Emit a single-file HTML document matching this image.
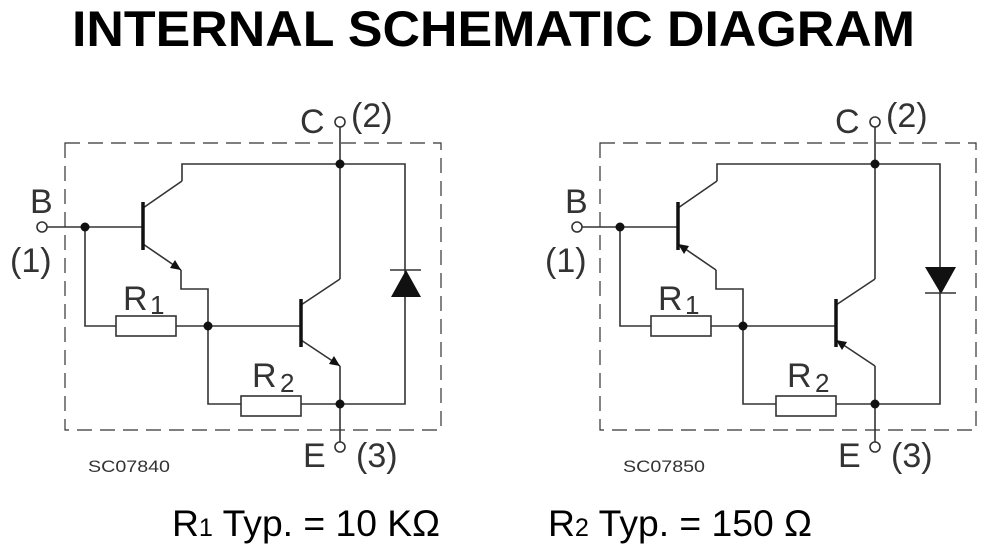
<!DOCTYPE html>
<html><head><meta charset="utf-8"><style>
html,body{margin:0;padding:0;background:#fff;}
svg{display:block;}
text{font-family:"Liberation Sans",sans-serif;}
</style></head><body>
<svg width="1000" height="558" viewBox="0 0 1000 558" xmlns="http://www.w3.org/2000/svg">
<text x="72" y="46" font-size="50" font-weight="bold" textLength="843" lengthAdjust="spacingAndGlyphs" fill="#000">INTERNAL  SCHEMATIC  DIAGRAM</text>

<defs>
<g id="common" stroke="#333" stroke-width="1.6" fill="none">
  <rect x="65" y="143" width="376" height="287" stroke-dasharray="15,8" stroke-width="1.2"/>
  <line x1="340" y1="127" x2="340" y2="279"/>
  <line x1="340" y1="366" x2="340" y2="442"/>
  <polyline points="182,181 182,164 405,164 405,404 340,404"/>
  <line x1="182" y1="181" x2="143" y2="208"/>
  <line x1="47" y1="227" x2="143" y2="227"/>
  <polyline points="85,227 85,326 116,326"/>
  <rect x="116" y="316" width="60" height="20" fill="#fff"/>
  <line x1="176" y1="326" x2="301" y2="326"/>
  <polyline points="181,270 181,289 208,289 208,404 241,404"/>
  <rect x="241" y="396" width="60" height="20" fill="#fff"/>
  <line x1="301" y1="404" x2="340" y2="404"/>
  <line x1="301" y1="305" x2="340" y2="279"/>
  <line x1="143" y1="244" x2="181" y2="270"/>
  <line x1="301" y1="340" x2="340" y2="366"/>
  <circle cx="340" cy="122" r="5" fill="#fff"/>
  <circle cx="340" cy="447" r="5" fill="#fff"/>
  <circle cx="42" cy="227" r="5" fill="#fff"/>
  <line x1="143" y1="202" x2="143" y2="250" stroke-width="3.5" stroke="#111"/>
  <line x1="301" y1="299" x2="301" y2="347" stroke-width="3.5" stroke="#111"/>
</g>
<g id="dots" fill="#111">
  <circle cx="340" cy="164" r="4.5"/>
  <circle cx="340" cy="404" r="4.5"/>
  <circle cx="85" cy="227" r="4.5"/>
  <circle cx="208" cy="326" r="4.5"/>
</g>
<g id="labels" fill="#333" font-size="34">
  <text x="300" y="133">C</text>
  <text x="351" y="127">(2)</text>
  <text x="30" y="213">B</text>
  <text x="10" y="272">(1)</text>
  <text x="303" y="467">E</text>
  <text x="356" y="467">(3)</text>
  <text x="123" y="310">R</text><text x="150" y="314" font-size="26">1</text>
  <text x="252" y="387">R</text><text x="280" y="392" font-size="26">2</text>
</g>
</defs>

<use href="#common"/><use href="#dots"/><use href="#labels"/>
<text x="88" y="472" font-size="17" fill="#333" textLength="82" lengthAdjust="spacingAndGlyphs">SC07840</text>
<polygon points="181,270 170,268 175,260" fill="#111"/>
<polygon points="340,366 329,364 334,356" fill="#111"/>
<polygon points="391,297 421,297 406,270" fill="#111"/>
<line x1="390" y1="270" x2="421" y2="270" stroke="#333" stroke-width="1.6"/>

<g transform="translate(535,0)">
<use href="#common"/><use href="#dots"/><use href="#labels"/>
<text x="88" y="472" font-size="17" fill="#333" textLength="82" lengthAdjust="spacingAndGlyphs">SC07850</text>
<polygon points="143,244 154,246 149,254" fill="#111"/>
<polygon points="301,340 312,342 307,350" fill="#111"/>
<polygon points="390,267 421,267 406,294" fill="#111"/>
<line x1="390" y1="293" x2="421" y2="293" stroke="#333" stroke-width="1.6"/>
</g>

<text x="172" y="536" font-size="37" fill="#000" textLength="268" lengthAdjust="spacingAndGlyphs">R<tspan font-size="25">1</tspan> Typ. = 10 KΩ</text>
<text x="548" y="536" font-size="37" fill="#000" textLength="264" lengthAdjust="spacingAndGlyphs">R<tspan font-size="25">2</tspan> Typ. = 150 Ω</text>
</svg>
</body></html>
